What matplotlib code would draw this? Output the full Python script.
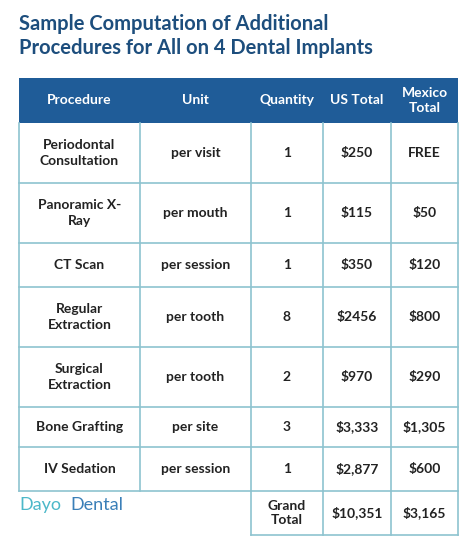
import matplotlib
matplotlib.use("Agg")
import matplotlib.pyplot as plt
from matplotlib.patches import Rectangle

title = "Sample Computation of Additional\nProcedures for All on 4 Dental Implants"
headers = ["Procedure", "Unit", "Quantity", "US Total", "Mexico\nTotal"]
procedures = ["Periodontal\nConsultation", "Panoramic X-\nRay", "CT Scan", "Regular\nExtraction",
              "Surgical\nExtraction", "Bone Grafting", "IV Sedation"]
units = ["per visit", "per mouth", "per session", "per tooth", "per tooth", "per site", "per session"]
quantities = ["1", "1", "1", "8", "2", "3", "1"]
us_totals = ["$250", "$115", "$350", "$2456", "$970", "$3,333", "$2,877"]
mx_totals = ["FREE", "$50", "$120", "$800", "$290", "$1,305", "$600"]
grand = ["Grand\nTotal", "$10,351", "$3,165"]

col_x = [19, 140, 251, 323, 391, 458]
row_y = [78, 123, 183, 243, 287, 347, 407, 447, 491]
grand_bottom = 535

BLUE = "#1f5c98"
TITLE = "#1d4e7d"
LINE = "#8ec3cf"
TXT = "#222222"
FONT = "Lato"

fig = plt.figure(figsize=(4.74, 5.46), dpi=100)
ax = fig.add_axes([0, 0, 1, 1])
ax.set_xlim(0, 474); ax.set_ylim(546, 0); ax.axis("off")

ax.text(19, 36, title, fontsize=14.5, fontweight="bold", color=TITLE, family=FONT,
        va="center", ha="left", linespacing=1.25)

ax.add_patch(Rectangle((col_x[0], row_y[0]), col_x[-1]-col_x[0], row_y[1]-row_y[0], color=BLUE, lw=0))
for i, h in enumerate(headers):
    cx = (col_x[i]+col_x[i+1])/2
    ax.text(cx, (row_y[0]+row_y[1])/2, h, color="white", fontsize=10, fontweight="bold",
            family=FONT, ha="center", va="center", linespacing=1.3)

cols = [procedures, units, quantities, us_totals, mx_totals]
for r in range(len(procedures)):
    y0, y1 = row_y[r+1], row_y[r+2]
    for c in range(5):
        cx = (col_x[c]+col_x[c+1])/2
        ax.text(cx, (y0+y1)/2, cols[c][r], color=TXT, fontsize=10, fontweight="bold",
                family=FONT, ha="center", va="center", linespacing=1.35)

# grid lines
for y in row_y[2:]:
    ax.plot([col_x[0], col_x[-1]], [y, y], color=LINE, lw=1.2)
for x in col_x:
    ax.plot([x, x], [row_y[1], row_y[-1]], color=LINE, lw=1.2)
# grand total row
for x in col_x[2:]:
    ax.plot([x, x], [row_y[-1], grand_bottom], color=LINE, lw=1.2)
ax.plot([col_x[2], col_x[-1]], [grand_bottom, grand_bottom], color=LINE, lw=1.2)
for i, g in enumerate(grand):
    cx = (col_x[2+i]+col_x[3+i])/2
    ax.text(cx, (row_y[-1]+grand_bottom)/2, g, color=TXT, fontsize=10, fontweight="bold",
            family=FONT, ha="center", va="center", linespacing=1.3)

# logo
ax.text(19, 505, "Dayo", color="#4cb8c9", fontsize=13, family=FONT, ha="left", va="center")
ax.text(70, 505, "Dental", color="#3a7fb8", fontsize=13, family=FONT, ha="left", va="center")

fig.savefig("out.png", dpi=100)
